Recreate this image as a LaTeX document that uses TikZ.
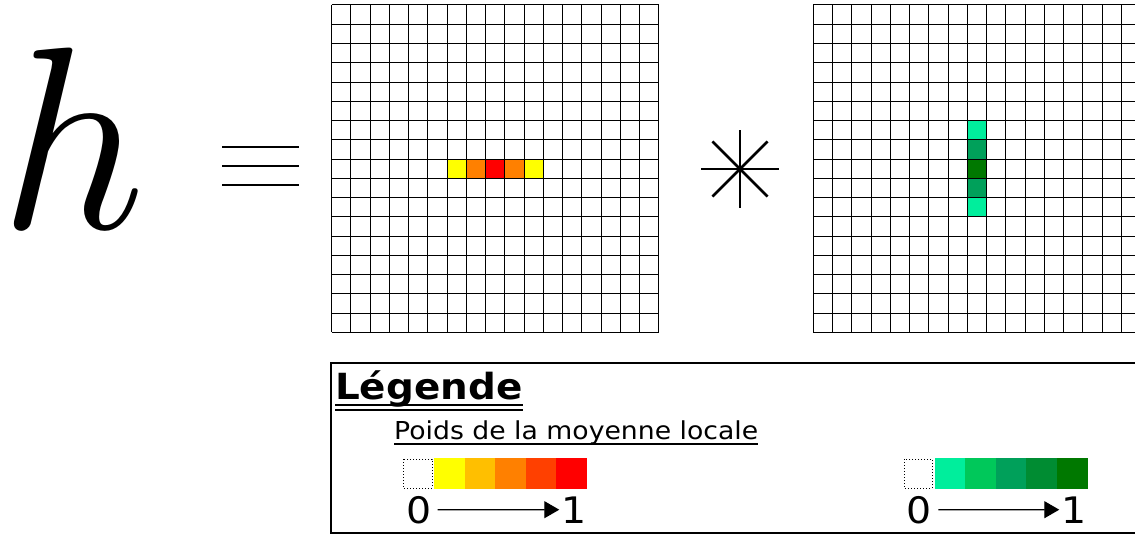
\documentclass[tikz,border=0pt]{standalone}
\usepackage{fontspec}
\newfontfamily\legfont[FakeStretch=1.08]{DejaVu Sans}
\usetikzlibrary{arrows.meta}
% echelles de couleur des poids
\definecolor{rougeA}{HTML}{FFFF00}
\definecolor{rougeB}{HTML}{FFBF00}
\definecolor{rougeC}{HTML}{FF8000}
\definecolor{rougeD}{HTML}{FF4000}
\definecolor{rougeE}{HTML}{FF0000}
\definecolor{vertA}{HTML}{00EE9C}
\definecolor{vertB}{HTML}{00C85A}
\definecolor{vertC}{HTML}{00A05A}
\definecolor{vertD}{HTML}{008C32}
\definecolor{vertE}{HTML}{007800}
\tikzset{
  chiffre/.style={anchor=base, inner sep=0pt, font=\legfont\fontsize{36.5}{36}\selectfont},
  fleche/.style={-{Triangle[length=15pt,width=17pt]}, line width=1.2pt, shorten <=6pt, shorten >=2pt},
  grille/.style={line width=1pt},
}
\begin{document}
\begin{tikzpicture}[x=1pt,y=-1pt]
\useasboundingbox (0,0) rectangle (1135,535);
\clip (0,0) rectangle (1135,535);

% h = grille * grille
\node (h)[anchor=base, inner sep=0pt, scale=26, xscale=0.97] at (73,228) {$h$};
\foreach \y in {147,166,185}
  \draw[line width=2.2pt] (222,\y) -- (299,\y);
\foreach \a in {0,45,...,315}
  \draw[line width=2.6pt] (740,169) -- +(\a:39);

% premier noyau (ligne)
\begin{scope}[shift={(331.5,5)}, x=19.25pt, y=-19.25pt]
\foreach \c/\col in {6/rougeA,7/rougeC,8/rougeE,9/rougeC,10/rougeA}
  \fill[\col] (\c,8) rectangle +(1,1);
\foreach \i in {0,...,17} {
  \draw[grille] (\i,0) -- (\i,17);
  \draw[grille] (0,\i) -- (17,\i);
}
\end{scope}

% second noyau (colonne)
\begin{scope}[shift={(813.3,5)}, x=19.25pt, y=-19.25pt]
\foreach \r/\col in {6/vertA,7/vertC,8/vertE,9/vertC,10/vertA}
  \fill[\col] (8,\r) rectangle +(1,1);
\foreach \i in {0,...,17} {
  \draw[grille] (\i,0) -- (\i,17);
  \draw[grille] (0,\i) -- (17,\i);
}
\end{scope}

% legende
\draw[line width=1.2pt] (331,363) rectangle (1160,533);
\node (titre)[anchor=base west, inner sep=0pt, font=\legfont\bfseries\fontsize{36}{36}\selectfont] at (335,399) {Légende};
\draw[line width=1.3pt] ([yshift=-6pt]titre.base west) -- ([yshift=-6pt]titre.base east);
\draw[line width=1.3pt] ([yshift=-11pt]titre.base west) -- ([yshift=-11pt]titre.base east);
\node (sous)[anchor=base west, inner sep=0pt, font=\legfont\fontsize{24.7}{25}\selectfont] at (394,439) {Poids de la moyenne locale};
\draw[line width=1.2pt] ([yshift=-5pt]sous.base west) -- ([yshift=-5pt]sous.base east);

% echelle rouge
\draw[dotted, line width=1pt] (403,459) rectangle (432,488);
\foreach \i/\col in {0/rougeA,1/rougeB,2/rougeC,3/rougeD,4/rougeE}
  \fill[\col] (434+30.5*\i,457.5) rectangle +(30.5,31.5);
\node (zeroR)[chiffre] at (419,523) {0};
\node (unR)[chiffre] at (574,523) {1};
\draw[fleche] (zeroR) -- (unR);

% echelle verte
\draw[dotted, line width=1pt] (904,459) rectangle (932,488);
\foreach \i/\col in {0/vertA,1/vertB,2/vertC,3/vertD,4/vertE}
  \fill[\col] (934.5+30.6*\i,457.5) rectangle +(30.6,31.5);
\node (zeroV)[chiffre] at (919.5,523) {0};
\node (unV)[chiffre] at (1074,523) {1};
\draw[fleche] (zeroV) -- (unV);
\end{tikzpicture}
\end{document}
